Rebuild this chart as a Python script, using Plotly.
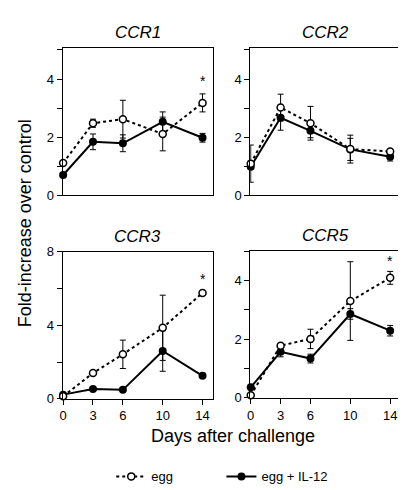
import plotly.graph_objects as go

days = [0, 3, 6, 10, 14]
tick_days = [0, 3, 6, 10, 14]

# CCR1
ccr1_egg = [1.11, 2.48, 2.62, 2.11, 3.18]
ccr1_egg_err = [0.0, 0.14, 0.65, 0.58, 0.31]
ccr1_il12 = [0.70, 1.84, 1.79, 2.53, 1.98]
ccr1_il12_err = [0.0, 0.27, 0.29, 0.34, 0.15]
# CCR2
ccr2_egg = [1.09, 3.02, 2.48, 1.59, 1.51]
ccr2_egg_err = [0.64, 0.46, 0.58, 0.48, 0.05]
ccr2_il12 = [0.98, 2.67, 2.22, 1.58, 1.33]
ccr2_il12_err = [0.0, 0.43, 0.24, 0.38, 0.15]
# CCR3
ccr3_egg = [0.14, 1.40, 2.42, 3.86, 5.75]
ccr3_egg_err = [0.0, 0.0, 0.77, 1.77, 0.0]
ccr3_il12 = [0.23, 0.53, 0.49, 2.60, 1.25]
ccr3_il12_err = [0.0, 0.0, 0.0, 1.10, 0.0]
# CCR5
ccr5_egg = [0.09, 1.78, 2.01, 3.30, 4.09]
ccr5_egg_err = [0.0, 0.05, 0.33, 1.34, 0.22]
ccr5_il12 = [0.36, 1.57, 1.34, 2.86, 2.29]
ccr5_il12_err = [0.08, 0.17, 0.15, 0.18, 0.18]

panel_titles = ["CCR1", "CCR2", "CCR3", "CCR5"]
asterisk_y = [3.94, None, 6.5, 4.65]
y_ranges = [[0, 5.07], [0, 5.07], [0, 8], [0, 5.02]]
y_major = [2, 2, 4, 2]
y_minor = [1, 1, 2, 1]

panels = [
    (ccr1_egg, ccr1_egg_err, ccr1_il12, ccr1_il12_err),
    (ccr2_egg, ccr2_egg_err, ccr2_il12, ccr2_il12_err),
    (ccr3_egg, ccr3_egg_err, ccr3_il12, ccr3_il12_err),
    (ccr5_egg, ccr5_egg_err, ccr5_il12, ccr5_il12_err),
]

W, H = 406, 490
x_doms = [[52 / W, 203 / W], [241 / W, 392 / W], [52 / W, 203 / W], [241 / W, 392 / W]]
y_doms = [[1 - 186 / H, 1 - 34 / H], [1 - 186 / H, 1 - 34 / H],
          [1 - 396 / H, 1 - 244 / H], [1 - 395 / H, 1 - 243 / H]]

FONT = "Liberation Sans, Arial, Helvetica, sans-serif"
fig = go.Figure()

for i, (egg, egg_err, il, il_err) in enumerate(panels):
    n = "" if i == 0 else str(i + 1)
    xa, ya = "x" + n, "y" + n
    fig.add_trace(go.Scatter(
        x=days, y=il, xaxis=xa, yaxis=ya, mode="lines+markers",
        line=dict(color="black", width=2),
        marker=dict(symbol="circle", size=8, color="black"),
        error_y=dict(type="data", array=il_err, color="black", thickness=1, width=3),
        showlegend=False, cliponaxis=False))
    fig.add_trace(go.Scatter(
        x=days, y=egg, xaxis=xa, yaxis=ya, mode="lines+markers",
        line=dict(color="black", width=2, dash="dot"),
        marker=dict(symbol="circle", size=7, color="white", line=dict(color="black", width=1.5)),
        error_y=dict(type="data", array=egg_err, color="black", thickness=1, width=3),
        showlegend=False, cliponaxis=False))

    bottom = i >= 2
    fig.update_layout({
        "xaxis" + n: dict(
            domain=x_doms[i], range=[-0.05, 15.0], anchor=ya,
            showline=True, mirror=True, linecolor="black", linewidth=1,
            showgrid=False, zeroline=False,
            tickvals=tick_days if bottom else [],
            ticks="outside" if bottom else "", ticklen=5, tickcolor="black",
            showticklabels=bottom,
            tickfont=dict(family=FONT, size=13, color="black")),
        "yaxis" + n: dict(
            domain=y_doms[i], range=y_ranges[i], anchor=xa,
            showline=True, mirror=True, linecolor="black", linewidth=1,
            showgrid=False, zeroline=False,
            dtick=y_major[i], tick0=0, ticks="outside", ticklen=5, tickcolor="black",
            minor=dict(dtick=y_minor[i], tick0=0, ticks="outside", ticklen=5,
                       tickcolor="black", showgrid=False),
            tickfont=dict(family=FONT, size=13, color="black")),
    })
    xc = (x_doms[i][0] + x_doms[i][1]) / 2
    fig.add_annotation(x=xc, y=y_doms[i][1] + 16 / H, xref="paper", yref="paper",
                       text="<i>" + panel_titles[i] + "</i>", showarrow=False,
                       font=dict(family=FONT, size=17, color="black"),
                       xanchor="center", yanchor="middle")
    if asterisk_y[i] is not None:
        fig.add_annotation(x=14, y=asterisk_y[i], xref=xa, yref=ya, text="*",
                           showarrow=False, font=dict(family=FONT, size=14, color="black"),
                           xanchor="center", yanchor="middle")

# legend-only traces
fig.add_trace(go.Scatter(
    x=[None], y=[None], mode="lines+markers", name="egg",
    line=dict(color="black", width=2, dash="dot"),
    marker=dict(symbol="circle", size=7, color="white", line=dict(color="black", width=1.5)),
    legend="legend"))
fig.add_trace(go.Scatter(
    x=[None], y=[None], mode="lines+markers", name="egg + IL-12",
    line=dict(color="black", width=2),
    marker=dict(symbol="circle", size=8, color="black"),
    legend="legend2"))

fig.add_annotation(x=224 / W, y=1 - 434 / H, xref="paper", yref="paper",
                   text="Days after challenge", showarrow=False,
                   font=dict(family=FONT, size=18, color="black"),
                   xanchor="center", yanchor="middle")
fig.add_annotation(x=15 / W, y=1 - 215 / H, xref="paper", yref="paper",
                   text="Fold-increase over control", showarrow=False, textangle=-90,
                   font=dict(family=FONT, size=18, color="black"),
                   xanchor="center", yanchor="middle")

fig.update_layout(
    width=W, height=H, margin=dict(l=0, r=0, t=0, b=0),
    paper_bgcolor="white", plot_bgcolor="white",
    font=dict(family=FONT, color="black"),
    legend=dict(orientation="h", x=101 / W, y=1 - 476 / H, xanchor="left", yanchor="middle",
                font=dict(family=FONT, size=13, color="black"), itemwidth=30,
                bgcolor="rgba(0,0,0,0)"),
    legend2=dict(orientation="h", x=212 / W, y=1 - 476 / H, xanchor="left", yanchor="middle",
                 font=dict(family=FONT, size=13, color="black"), itemwidth=30,
                 bgcolor="rgba(0,0,0,0)"),
)

fig.write_html("out.html")
